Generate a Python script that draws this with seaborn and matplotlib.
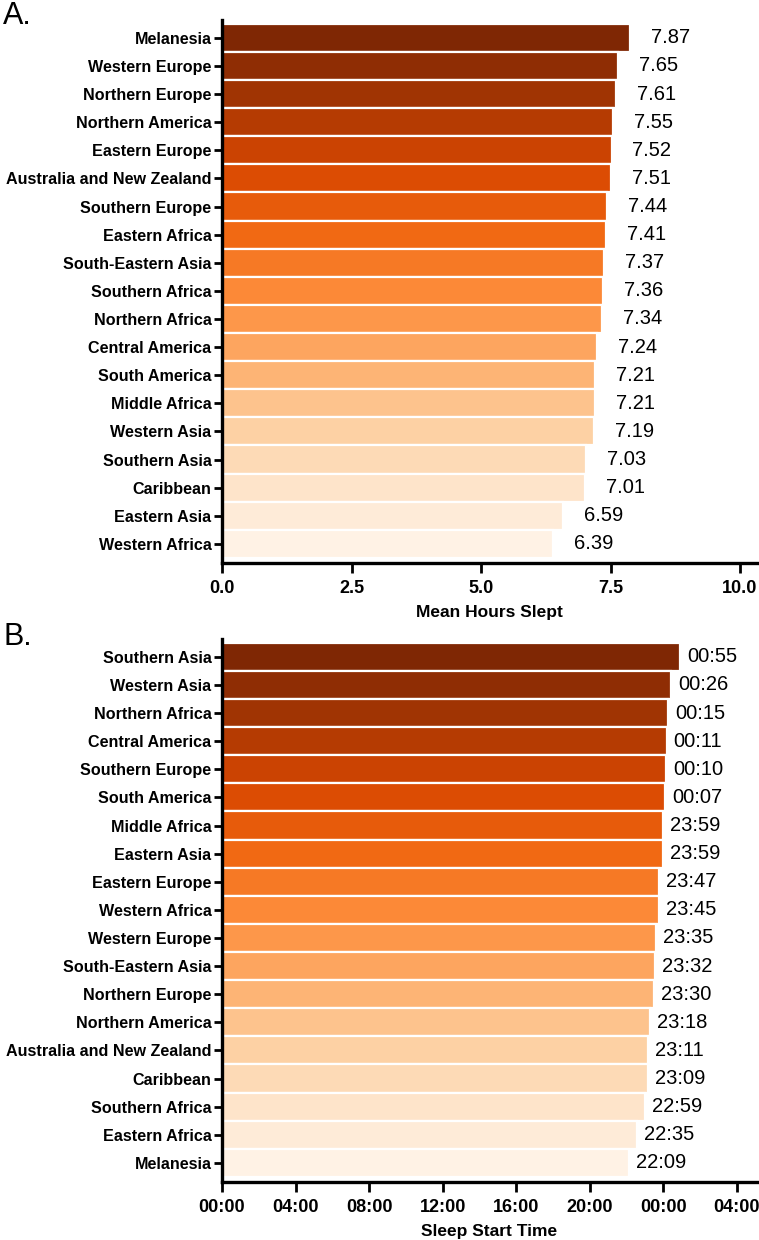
import numpy as np
import pandas as pd
import seaborn as sns
import matplotlib.pyplot as plt
import matplotlib as mpl
mpl.use('Agg')

# ---- data -------------------------------------------------------------
regions_a = ['Melanesia', 'Western Europe', 'Northern Europe', 'Northern America',
             'Eastern Europe', 'Australia and New Zealand', 'Southern Europe',
             'Eastern Africa', 'South-Eastern Asia', 'Southern Africa',
             'Northern Africa', 'Central America', 'South America', 'Middle Africa',
             'Western Asia', 'Southern Asia', 'Caribbean', 'Eastern Asia',
             'Western Africa']
hours_slept = [7.87, 7.65, 7.61, 7.55, 7.52, 7.51, 7.44, 7.41, 7.37, 7.36,
               7.34, 7.24, 7.21, 7.21, 7.19, 7.03, 7.01, 6.59, 6.39]

regions_b = ['Southern Asia', 'Western Asia', 'Northern Africa', 'Central America',
             'Southern Europe', 'South America', 'Middle Africa', 'Eastern Asia',
             'Eastern Europe', 'Western Africa', 'Western Europe', 'South-Eastern Asia',
             'Northern Europe', 'Northern America', 'Australia and New Zealand',
             'Caribbean', 'Southern Africa', 'Eastern Africa', 'Melanesia']
start_times = ['00:55', '00:26', '00:15', '00:11', '00:10', '00:07', '23:59', '23:59',
               '23:47', '23:45', '23:35', '23:32', '23:30', '23:18', '23:11', '23:09',
               '22:59', '22:35', '22:09']
time_ticks = ['00:00', '04:00', '08:00', '12:00', '16:00', '20:00', '00:00', '04:00']


def to_hours(s):
    h, m = [int(v) for v in s.split(':')]
    if h < 12:
        h += 24  # after midnight
    return h + m / 60.0


df_a = pd.DataFrame({'region': regions_a, 'value': hours_slept})
df_b = pd.DataFrame({'region': regions_b, 'value': [to_hours(t) for t in start_times]})

sns.set_style('ticks')
plt.rcParams['font.family'] = ['Liberation Sans', 'DejaVu Sans']
for k in ['text.color', 'axes.labelcolor', 'xtick.color', 'ytick.color']:
    plt.rcParams[k] = 'black'

colors = [plt.cm.Oranges(v) for v in np.linspace(1.0, 0.03, 19)]

fig = plt.figure(figsize=(7.59, 12.40), dpi=100)
ax1 = fig.add_axes([0.2925, 0.546, 0.705, 0.438])
ax2 = fig.add_axes([0.2925, 0.0468, 0.705, 0.438])


def style_axis(ax):
    for s in ['top', 'right']:
        ax.spines[s].set_visible(False)
    for s in ['left', 'bottom']:
        ax.spines[s].set_linewidth(2.4)
        ax.spines[s].set_color('black')
    ax.tick_params(axis='y', length=6, width=2, pad=1.5, labelsize=11.6)
    ax.tick_params(axis='x', length=7, width=2, pad=5, labelsize=13)
    for lab in ax.get_xticklabels() + ax.get_yticklabels():
        lab.set_fontweight('bold')
    ax.set_ylabel('')
    ax.set_ylim(18.68, -0.64)


# ---- panel A ----------------------------------------------------------
sns.barplot(ax=ax1, data=df_a, x='value', y='region', hue='region', palette=colors,
            saturation=1, orient='h', width=1.0, edgecolor='white', linewidth=1.6,
            legend=False)
for c, lab in zip(ax1.containers, ['%.2f' % v for v in hours_slept]):
    ax1.bar_label(c, labels=[lab], padding=15, fontsize=14.5)
ax1.set_xlim(0, 10.33)
ax1.set_xticks([0, 2.5, 5.0, 7.5, 10.0])
ax1.set_xticklabels(['0.0', '2.5', '5.0', '7.5', '10.0'])
ax1.set_xlabel('Mean Hours Slept', fontsize=12.5, fontweight='bold', labelpad=6)
style_axis(ax1)

# ---- panel B ----------------------------------------------------------
sns.barplot(ax=ax2, data=df_b, x='value', y='region', hue='region', palette=colors,
            saturation=1, orient='h', width=1.0, edgecolor='white', linewidth=1.6,
            legend=False)
for c, lab in zip(ax2.containers, start_times):
    ax2.bar_label(c, labels=[lab], padding=5, fontsize=14.5)
ax2.set_xlim(0, 29.1)
ax2.set_xticks(np.arange(0, 29, 4))
ax2.set_xticklabels(time_ticks)
ax2.set_xlabel('Sleep Start Time', fontsize=12.5, fontweight='bold', labelpad=6)
style_axis(ax2)

fig.text(0.004, 0.999, 'A.', fontsize=22, va='top', ha='left')
fig.text(0.004, 0.498, 'B.', fontsize=22, va='top', ha='left')

plt.savefig('out.png', dpi=100)
